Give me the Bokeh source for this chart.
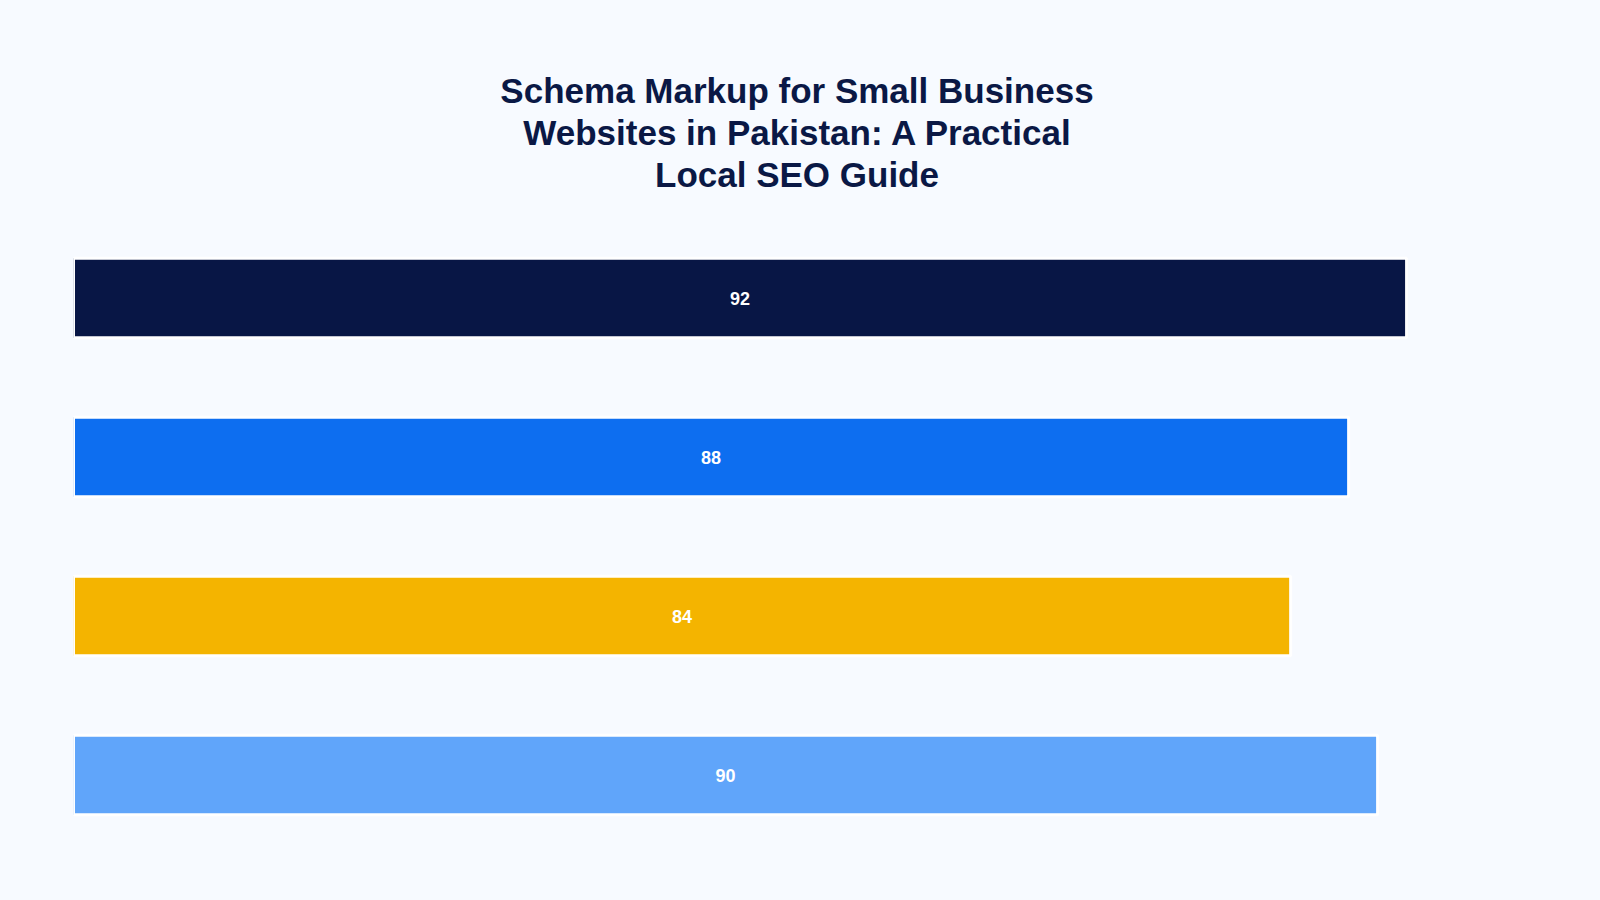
from bokeh.plotting import figure
from bokeh.models import ColumnDataSource, Div
from bokeh.layouts import column
from bokeh.core.properties import value
from bokeh.embed import file_html
from bokeh.resources import INLINE

# data
categories = ["Item 1", "Item 2", "Item 3", "Item 4"]
scores = [92, 88, 84, 90]
bar_colors = ["#081645", "#0d6ef0", "#f4b400", "#60a5fa"]
title_lines = ["Schema Markup for Small Business",
               "Websites in Pakistan: A Practical",
               "Local SEO Guide"]

bg = "#f7faff"

src = ColumnDataSource(dict(
    cat=categories,
    score=scores,
    mid=[s / 2 for s in scores],
    label=[str(s) for s in scores],
    color=bar_colors,
))

# heading as a centred html block above the plot
head = Div(text='<div style="width:1584px;padding-top:65px;text-align:center;'
                'font-family:\'Liberation Sans\';font-weight:bold;font-size:35px;'
                'line-height:42px;color:#0a1845;">' + "<br>".join(title_lines) + "</div>",
           width=1584, height=188)

p = figure(width=1584, height=686, output_backend="svg", toolbar_location=None,
           y_range=list(reversed(categories)), x_range=(0, 100),
           min_border_left=73, min_border_right=62, min_border_top=20,
           min_border_bottom=30)
p.y_range.range_padding = 0

p.hbar(y="cat", right="score", left=0, height=0.5, source=src,
       fill_color="color", line_color="white", line_width=3)
p.text(x="mid", y="cat", text="label", source=src, text_color="white",
       text_font=value("Liberation Sans"), text_font_style="bold",
       text_font_size="18px", text_align="center", text_baseline="middle")

p.axis.visible = False
p.grid.visible = False
p.outline_line_color = None
p.background_fill_color = bg
p.border_fill_color = bg

html = file_html(column(head, p), INLINE)
html = html.replace("<body>", '<body style="background:%s">' % bg)
open("out.html", "w").write(html)
